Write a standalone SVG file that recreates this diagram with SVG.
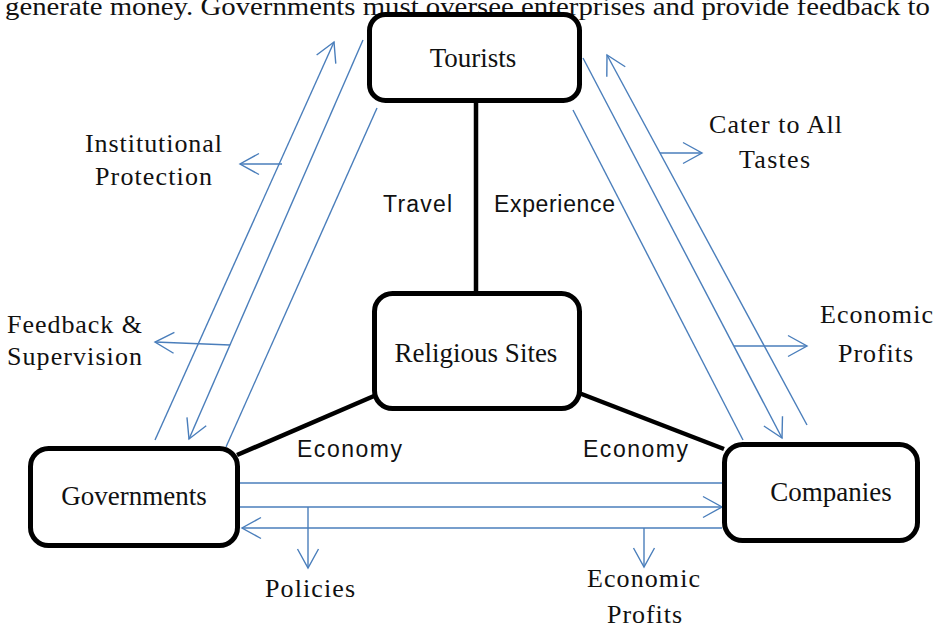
<svg xmlns="http://www.w3.org/2000/svg" width="933" height="628" viewBox="0 0 933 628">
  <style>
    .box { fill: #ffffff; stroke: #000000; stroke-width: 5; }
    .link { stroke: #000000; stroke-width: 4.5; fill: none; }
    .flow { stroke: #4a7ebb; stroke-width: 1.4; fill: none; }
    .serif { font-family: "Liberation Serif", "Times New Roman", serif; fill: #111111; }
    .sans { font-family: "Liberation Sans", Arial, sans-serif; fill: #111111; }
    .node-label { font-size: 27px; text-anchor: middle; }
    .side-label { font-size: 26px; }
    .edge-label { font-size: 23px; }
  </style>
  <defs>
    <marker id="openArrow" markerUnits="userSpaceOnUse" orient="auto" refX="0" refY="0" markerWidth="30" markerHeight="30" overflow="visible">
      <path d="M-19,-10.5 L0,0 L-19,10.5" fill="none" stroke="#4a7ebb" stroke-width="1.4"/>
    </marker>
  </defs>

  <rect width="933" height="628" fill="#ffffff"/>

  <!-- running text line, partly above the top edge -->
  <text class="serif" x="5" y="15" font-size="26" textLength="925" lengthAdjust="spacingAndGlyphs">generate money. Governments must oversee enterprises and provide feedback to</text>

  <!-- connectors -->
  <g id="connectors">
    <!-- black links between the sites and the three actors -->
    <line class="link" x1="476" y1="101" x2="476" y2="293"/>
    <line class="link" x1="237" y1="455" x2="374" y2="396"/>
    <line class="link" x1="579" y1="393" x2="724" y2="449"/>

    <!-- governments / tourists -->
    <line class="flow" x1="155" y1="440" x2="334" y2="42" marker-end="url(#openArrow)"/>
    <line class="flow" x1="363" y1="40" x2="189" y2="439" marker-end="url(#openArrow)"/>
    <line class="flow" x1="377" y1="108" x2="226" y2="447"/>
    <line class="flow" x1="282" y1="164" x2="240" y2="164" marker-end="url(#openArrow)"/>
    <line class="flow" x1="230" y1="345" x2="155" y2="342" marker-end="url(#openArrow)"/>

    <!-- tourists / companies -->
    <line class="flow" x1="573" y1="110" x2="743" y2="440"/>
    <line class="flow" x1="583" y1="58" x2="782" y2="438" marker-end="url(#openArrow)"/>
    <line class="flow" x1="807" y1="425" x2="607" y2="55" marker-end="url(#openArrow)"/>
    <line class="flow" x1="660" y1="153" x2="702" y2="153" marker-end="url(#openArrow)"/>
    <line class="flow" x1="734" y1="346" x2="807" y2="346" marker-end="url(#openArrow)"/>

    <!-- governments / companies -->
    <line class="flow" x1="240" y1="483" x2="722" y2="483"/>
    <line class="flow" x1="240" y1="507" x2="722" y2="507" marker-end="url(#openArrow)"/>
    <line class="flow" x1="722" y1="528" x2="242" y2="528" marker-end="url(#openArrow)"/>
    <line class="flow" x1="308" y1="507" x2="308" y2="568" marker-end="url(#openArrow)"/>
    <line class="flow" x1="644" y1="528" x2="644" y2="567" marker-end="url(#openArrow)"/>
  </g>

  <!-- link labels -->
  <g id="link-labels">
    <text class="sans edge-label" x="383" y="212" textLength="69">Travel</text>
    <text class="sans edge-label" x="494" y="212" textLength="121">Experience</text>
    <text class="sans edge-label" x="297" y="457" textLength="105">Economy</text>
    <text class="sans edge-label" x="583" y="457" textLength="105">Economy</text>
  </g>

  <!-- flow labels -->
  <g id="flow-labels">
    <text class="serif side-label" x="85" y="152" textLength="137">Institutional</text>
    <text class="serif side-label" x="95" y="185" textLength="117">Protection</text>
    <text class="serif side-label" x="7" y="333" textLength="135">Feedback &amp;</text>
    <text class="serif side-label" x="7" y="365" textLength="135">Supervision</text>
    <text class="serif side-label" x="709" y="133" textLength="133">Cater to All</text>
    <text class="serif side-label" x="739" y="168" textLength="71">Tastes</text>
    <text class="serif side-label" x="820" y="323" textLength="113">Economic</text>
    <text class="serif side-label" x="838" y="362" textLength="75">Profits</text>
    <text class="serif side-label" x="265" y="597" textLength="90">Policies</text>
    <text class="serif side-label" x="587" y="587" textLength="113">Economic</text>
    <text class="serif side-label" x="607" y="623" textLength="75">Profits</text>
  </g>

  <!-- nodes -->
  <g id="tourists">
    <rect class="box" x="369.5" y="14.5" width="210" height="86" rx="16"/>
    <text class="serif node-label" x="473" y="67">Tourists</text>
  </g>
  <g id="religious-sites">
    <rect class="box" x="374.5" y="293.5" width="205" height="115" rx="18"/>
    <text class="serif node-label" x="476" y="362">Religious Sites</text>
  </g>
  <g id="governments">
    <rect class="box" x="30.5" y="448.5" width="207" height="97" rx="18"/>
    <text class="serif node-label" x="134" y="505">Governments</text>
  </g>
  <g id="companies">
    <rect class="box" x="724.5" y="444.5" width="193" height="96" rx="18"/>
    <text class="serif node-label" x="831" y="501">Companies</text>
  </g>
</svg>
